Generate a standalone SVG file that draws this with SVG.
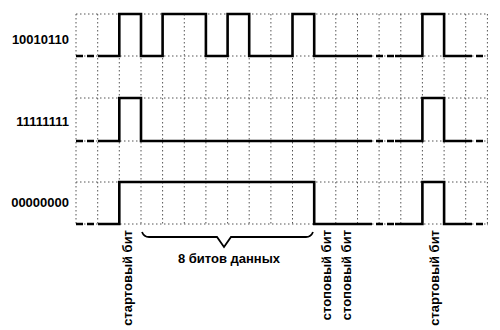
<svg xmlns="http://www.w3.org/2000/svg" width="500" height="330" viewBox="0 0 500 330">
<style>
.grid{fill:none;stroke:#555;stroke-width:1;stroke-dasharray:1.5,2.5}
.sig{fill:none;stroke:#000;stroke-width:2.6;stroke-linejoin:miter;stroke-linecap:butt}
.dash{fill:none;stroke:#000;stroke-width:2.6;stroke-dasharray:7,4}
.lbl{font-family:"Liberation Sans",Arial,sans-serif;font-weight:bold;font-size:13px;fill:#000}
.brace{fill:none;stroke:#000;stroke-width:1.8}
</style>
<rect width="500" height="330" fill="#fff"/>
<g id="grid">
<path class="grid" d="M76,14V224M97.7,14V224M119.3,14V224M141,14V224M162.6,14V224M184.3,14V224M205.9,14V224M227.6,14V224M249.2,14V224M270.9,14V224M292.5,14V224M314.2,14V224M335.8,14V224M357.5,14V224M379.1,14V224M400.8,14V224M422.4,14V224M444.1,14V224M465.7,14V224M487.4,14V224"/>
<path class="grid" d="M76,14H487.4M76,56H487.4M76,98H487.4M76,141H487.4M76,182H487.4M76,224H487.4"/>
</g>
<g id="row1">
<text class="lbl" x="69" y="44" text-anchor="end">10010110</text>
<path class="dash" d="M76,56H98M365,56H395M465,56H487.4"/>
<path class="sig" d="M98,56H119.3V14H141V56H162.6V14H205.9V56H227.6V14H249.2V56H292.5V14H314.2V56H365"/>
<path class="sig" d="M395,56H422.4V14H444.1V56H465"/>
</g>
<g id="row2">
<text class="lbl" x="69" y="126" text-anchor="end">11111111</text>
<path class="dash" d="M76,141H98M365,141H395M465,141H487.4"/>
<path class="sig" d="M98,141H119.3V98H141V141H365"/>
<path class="sig" d="M395,141H422.4V98H444.1V141H465"/>
</g>
<g id="row3">
<text class="lbl" x="69" y="207" text-anchor="end">00000000</text>
<path class="dash" d="M76,224H98M365,224H395M465,224H487.4"/>
<path class="sig" d="M98,224H119.3V182H314.2V224H365"/>
<path class="sig" d="M395,224H422.4V182H444.1V224H465"/>
</g>
<g id="annotations">
<text class="lbl" transform="translate(132,230) rotate(-90)" text-anchor="end">стартовый бит</text>
<text class="lbl" transform="translate(331,230) rotate(-90)" text-anchor="end">стоповый бит</text>
<text class="lbl" transform="translate(351,230) rotate(-90)" text-anchor="end">стоповый бит</text>
<text class="lbl" transform="translate(438.5,230) rotate(-90)" text-anchor="end">стартовый бит</text>
<path class="brace" d="M142,232Q144,237 149,237H217L224,247L231,237H306Q311,237 313,232"/>
<text class="lbl" x="229" y="263" text-anchor="middle">8 битов данных</text>
</g>
</svg>
